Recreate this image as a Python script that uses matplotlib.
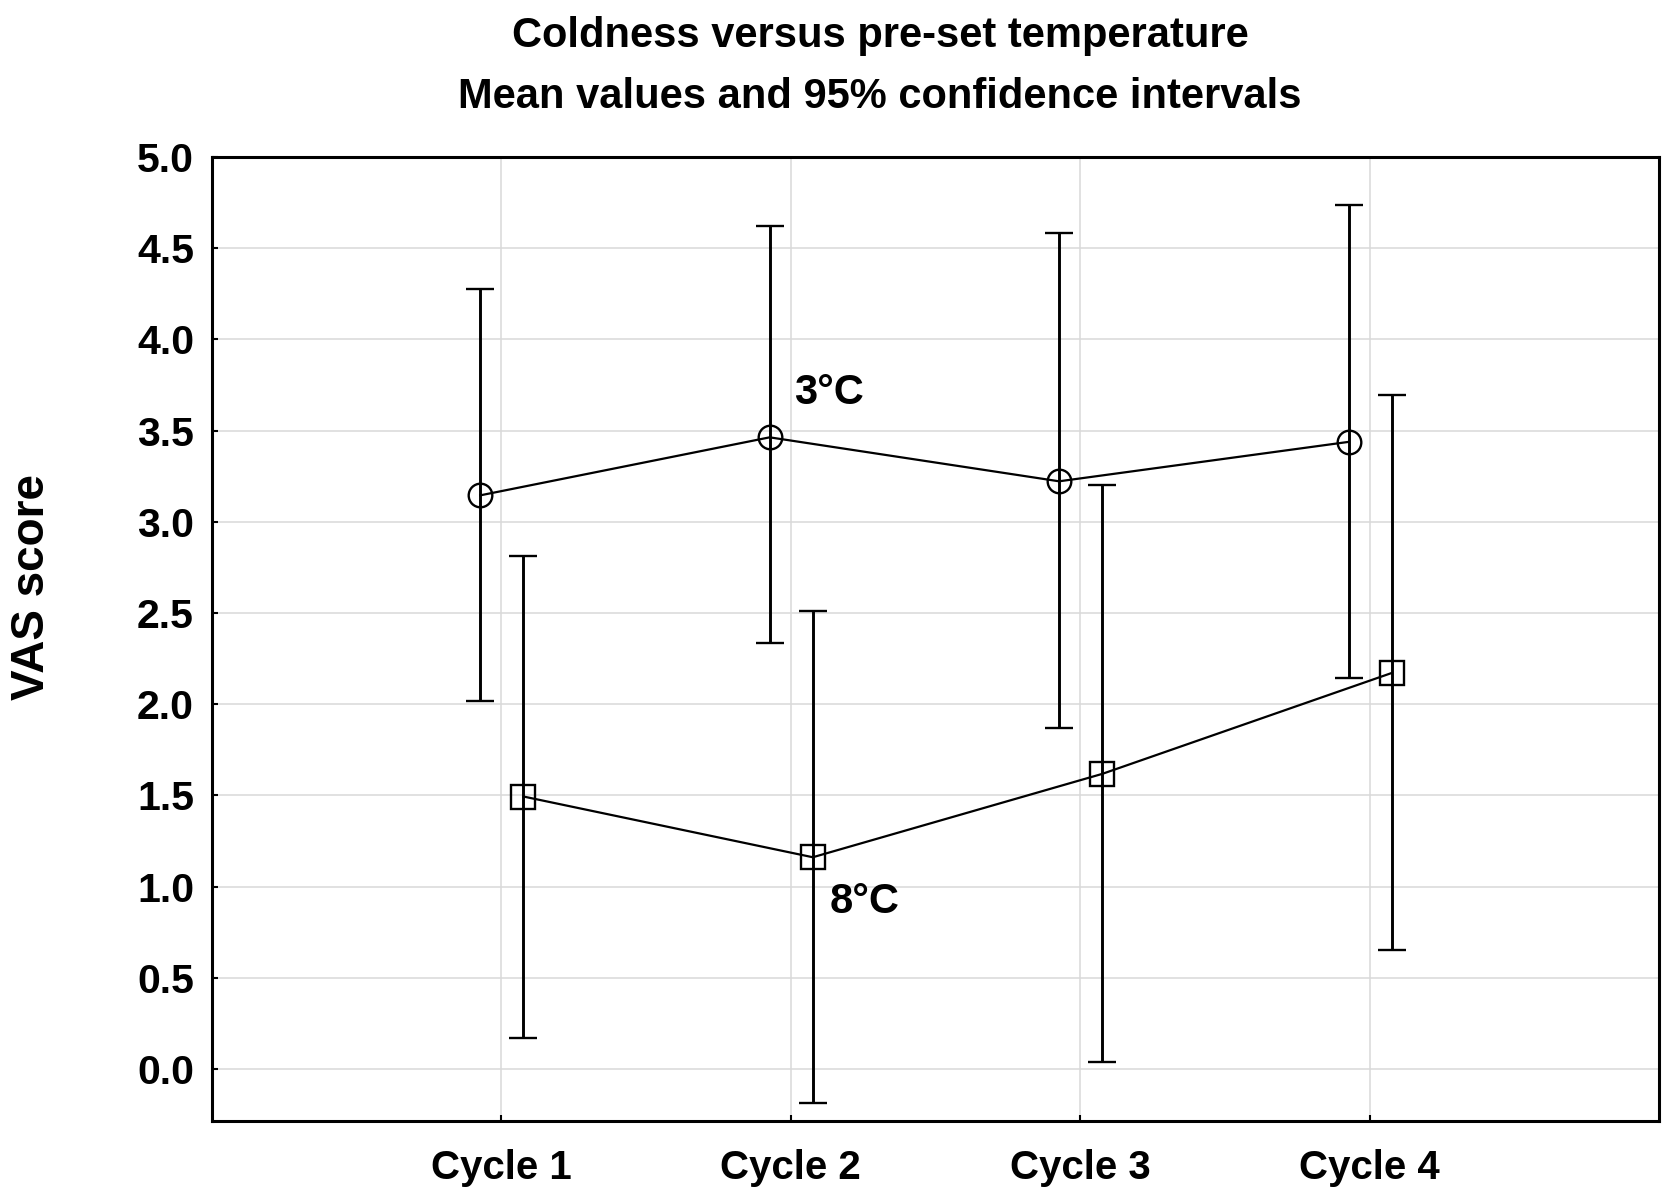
import numpy as np
import matplotlib
matplotlib.use("Agg")
import matplotlib.pyplot as plt

plt.rcParams['font.family'] = ['Liberation Sans', 'DejaVu Sans']

cycles = ['Cycle 1', 'Cycle 2', 'Cycle 3', 'Cycle 4']

# 3 degC series: mean and 95% CI bounds
mean_3 = [3.145, 3.463, 3.222, 3.438]
lo_3 = [2.015, 2.335, 1.872, 2.146]
hi_3 = [4.277, 4.624, 4.584, 4.739]

# 8 degC series
mean_8 = [1.494, 1.161, 1.618, 2.171]
lo_8 = [0.172, -0.184, 0.036, 0.653]
hi_8 = [2.814, 2.509, 3.204, 3.697]

yticks = [0.0, 0.5, 1.0, 1.5, 2.0, 2.5, 3.0, 3.5, 4.0, 4.5, 5.0]

fig = plt.figure(figsize=(16.77, 12.01), dpi=100)
ax = fig.add_axes([0.1264, 0.0666, 0.9893 - 0.1264, 0.8693 - 0.0666])

pos = np.arange(1, len(cycles) + 1)

m3 = np.array(mean_3)
m8 = np.array(mean_8)
err3 = [m3 - np.array(lo_3), np.array(hi_3) - m3]
err8 = [m8 - np.array(lo_8), np.array(hi_8) - m8]

ax.errorbar(pos - 0.073, m3, yerr=err3, fmt='-o', color='black', lw=1.6,
            mfc='none', ms=17, mew=1.7, elinewidth=2.1, capsize=10,
            capthick=2.6, zorder=3)
ax.errorbar(pos + 0.076, m8, yerr=err8, fmt='-s', color='black', lw=1.6,
            mfc='none', ms=17, mew=1.7, elinewidth=2.1, capsize=10,
            capthick=2.6, zorder=3)

ax.text(2.010, 3.648, '3°C', fontsize=30, fontweight='bold', ha='left', va='baseline')
ax.text(2.135, 0.856, '8°C', fontsize=30, fontweight='bold', ha='left', va='baseline')

ax.set_xlim(0, 5)
ax.set_ylim(-0.285, 5.0)
ax.set_xticks(pos)
ax.set_xticklabels(cycles, fontsize=29, fontweight='bold')
ax.set_yticks(yticks)
ax.set_yticklabels([f'{v:.1f}' for v in yticks], fontsize=29.5, fontweight='bold')
ax.tick_params(axis='both', direction='in', length=4.5, width=1.5)
ax.tick_params(axis='y', pad=13)
ax.tick_params(axis='x', pad=20)

ax.grid(True, color='#d9d9d9', lw=1.1, zorder=0)
ax.set_axisbelow(True)
for s in ax.spines.values():
    s.set_linewidth(2.2)
    s.set_color('black')

fig.text(32 / 1677, 1 - 587 / 1201, 'VAS score', rotation=90, fontsize=33,
         fontweight='bold', ha='center', va='center')

fig.text(880 / 1677, 1 - 47 / 1201, 'Coldness versus pre-set temperature',
         fontsize=30, fontweight='bold', ha='center', va='baseline')
fig.text(880 / 1677, 1 - 108 / 1201, 'Mean values and 95% confidence intervals',
         fontsize=30, fontweight='bold', ha='center', va='baseline')

fig.savefig('out.png', dpi=100)
